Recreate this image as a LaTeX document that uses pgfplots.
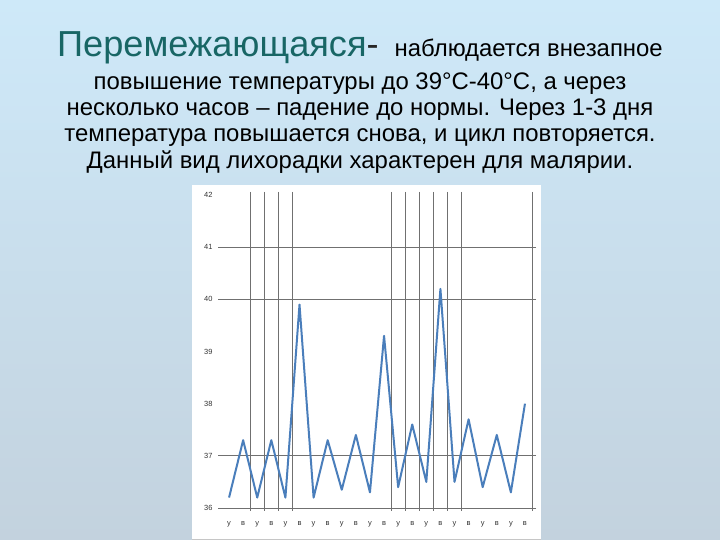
\documentclass[border=0pt]{standalone}
\usepackage{fontspec}
\setmainfont{Liberation Sans}
\usepackage{pgfplots}
\pgfplotsset{compat=1.18}

\definecolor{bgtop}{RGB}{206,233,249}
\definecolor{bgbottom}{RGB}{195,210,222}
\definecolor{titleteal}{RGB}{24,102,101}
\definecolor{gridgray}{RGB}{112,112,112}
\definecolor{feverblue}{RGB}{74,126,187}

\begin{document}
\begin{tikzpicture}[x=1bp, y=1bp]
% slide background, 720 x 540 px
\useasboundingbox (0,0) rectangle (720,540);
\shade[top color=bgtop, bottom color=bgbottom] (0,0) rectangle (720,540);
\fill[white] (192,0) rectangle (541,355);
\draw[gray!45, line width=0.6bp] (192,1) -- (541,1);

% text block
\node[anchor=base, inner sep=0pt] at (360,483)
  {{\fontsize{36.3}{40}\selectfont\color{titleteal}Перемежающаяся\color{black!85}-}\hspace{16bp}{\fontsize{24}{28}\selectfont наблюдается внезапное}};
\begin{scope}[every node/.style={anchor=base, inner sep=0pt, font=\fontsize{24}{28}\selectfont}]
\node at (360,450) {повышение температуры до 39°С-40°С, а через};
\node at (360,424) {несколько часов – падение до нормы. Через 1-3 дня};
\node at (360,398) {температура повышается снова, и цикл повторяется.};
\node at (360,371) {Данный вид лихорадки характерен для малярии.};
\end{scope}

\begin{axis}[
  at={(222bp,32bp)}, anchor=south west,
  scale only axis, width=310bp, height=313bp,
  xmin=-0.5, xmax=21.5, ymin=36, ymax=42,
  axis line style={draw=none},
  major tick length=0pt,
  xtick={0,...,21},
  xticklabels={у,в,у,в,у,в,у,в,у,в,у,в,у,в,у,в,у,в,у,в,у,в},
  ytick={36,...,42},
  /pgf/number format/assume math mode=true,
  ticklabel style={font=\fontsize{7.5}{9}\selectfont, text=black!80},
  xticklabel style={yshift=-10bp},
  yticklabel style={xshift=-6bp},
  grid style={draw=gridgray, line width=0.75bp},
  extra x ticks={1.5,2.5,3.5,4.5,11.5,12.5,13.5,14.5,15.5,16.5,21.5},
  extra x tick labels={},
  extra x tick style={grid=major, major tick length=3bp, tick align=outside,
    tick style={draw=gridgray, line width=0.75bp}},
  extra y ticks={36,37,40,41},
  extra y tick labels={},
  extra y tick style={grid=major, major tick length=4bp, tick align=outside,
    tick style={draw=gridgray, line width=0.75bp}},
]
\addplot[feverblue, line width=2bp, line join=round] coordinates {
  (0,36.2) (1,37.3) (2,36.2) (3,37.3) (4,36.2) (5,39.9)
  (6,36.2) (7,37.3) (8,36.35) (9,37.4) (10,36.3) (11,39.3)
  (12,36.4) (13,37.6) (14,36.5) (15,40.2) (16,36.5) (17,37.7)
  (18,36.4) (19,37.4) (20,36.3) (21,38.0)
};
\end{axis}
\end{tikzpicture}
\end{document}
